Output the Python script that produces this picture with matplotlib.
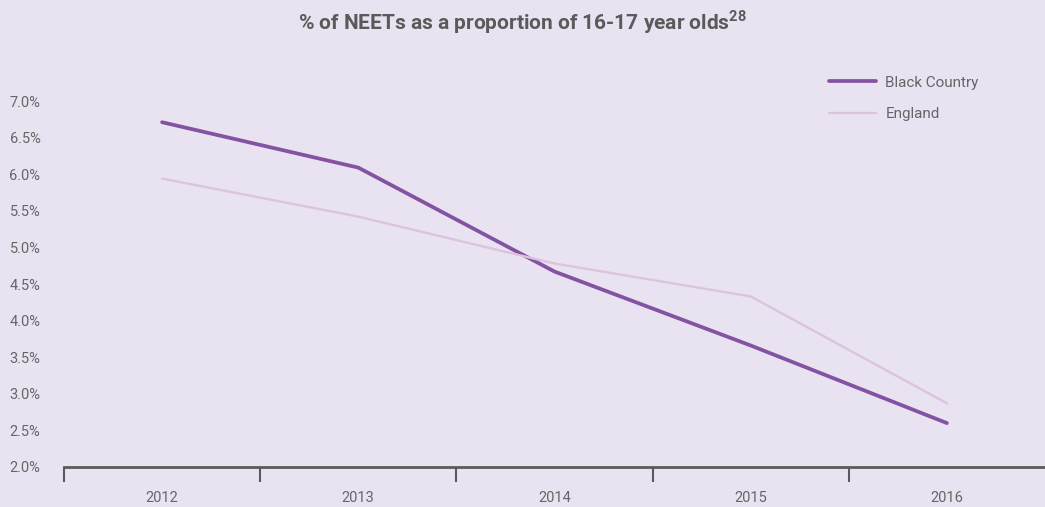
import numpy as np
import matplotlib.pyplot as plt
from matplotlib.ticker import FuncFormatter

# -- Data ------------------------------------------------------------------------

years = ["2012", "2013", "2014", "2015", "2016"]
black_country = [6.71, 6.09, 4.67, 3.66, 2.60]
england = [5.94, 5.42, 4.78, 4.33, 2.87]

# -- Style -----------------------------------------------------------------------

BG = "#E9E3F1"
PURPLE = "#8452A2"
PINK = "#DCC3DF"
GREY = "#5A5A5A"
TEXT = "#666666"

plt.rcParams["font.family"] = ["Roboto", "DejaVu Sans"]
plt.rcParams["mathtext.fontset"] = "custom"
plt.rcParams["mathtext.bf"] = "Roboto:bold"

fig = plt.figure(figsize=(10.45, 5.07), dpi=100, facecolor=BG)
ax = fig.add_axes([64 / 1045, 1 - 467 / 507, 1 - 64 / 1045, (467 - 101) / 507])
ax.set_facecolor(BG)

x = np.arange(len(years))
ax.plot(x, black_country, color=PURPLE, linewidth=2.7, solid_capstyle="round",
        label="Black Country")
ax.plot(x, england, color=PINK, linewidth=1.7, solid_capstyle="round",
        label="England")

ax.set_xlim(-0.5, len(years) - 0.5)
ax.set_ylim(2.0, 7.0)

# y axis: labels only
ax.set_yticks(np.arange(2.0, 7.01, 0.5))
ax.yaxis.set_major_formatter(FuncFormatter(lambda v, _: f"{v:.1f}%"))
ax.tick_params(axis="y", length=0, pad=17, labelsize=10.5, labelcolor=TEXT)

# x axis: tick marks between categories, labels centred in each band
ax.set_xticks(np.arange(-0.5, len(years) - 1, 1.0))
ax.set_xticklabels([])
ax.set_xticks(x, minor=True)
ax.set_xticklabels(years, minor=True)
ax.tick_params(axis="x", which="major", length=11, width=1.5, color=GREY, direction="out")
ax.tick_params(axis="x", which="minor", length=0, pad=17, labelsize=10.5, labelcolor=TEXT)

for side in ["top", "right", "left"]:
    ax.spines[side].set_visible(False)
ax.spines["bottom"].set_color(GREY)
ax.spines["bottom"].set_linewidth(2)

fig.text(0.5, 1 - 22 / 507,
         r"% of NEETs as a proportion of 16-17 year olds$^{\mathbf{28}}$",
         ha="center", va="center", fontsize=15, fontweight="bold", color=GREY)

leg = ax.legend(loc="upper left", bbox_to_anchor=(815 / 1045, 1 - 62 / 507),
                bbox_transform=fig.transFigure, frameon=False, fontsize=11,
                handlelength=3.1, handletextpad=0.6, labelspacing=1.15)
for t in leg.get_texts():
    t.set_color(TEXT)

fig.savefig("out.png", dpi=100, facecolor=BG)
